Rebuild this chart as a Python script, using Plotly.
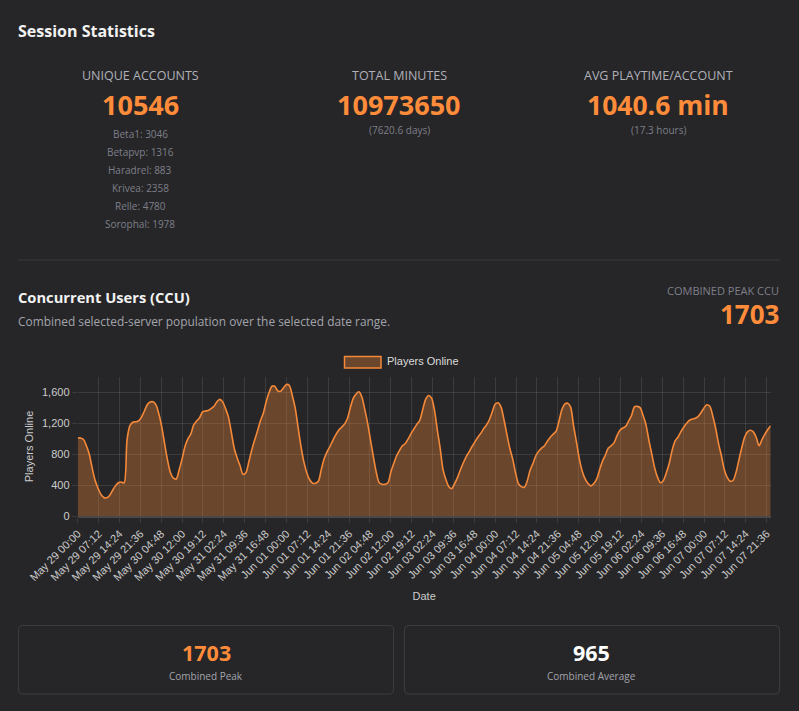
import pandas as pd
import plotly.graph_objects as go

# --- data ---
start_time = "2025-05-29 00:00"
players_online = [
    1010, 1010, 990, 910, 800, 620, 463, 360, 280, 240,
    235, 265, 330, 390, 430, 440, 430, 980, 1170, 1215,
    1220, 1230, 1280, 1360, 1440, 1475, 1478, 1440, 1320, 1150,
    930, 720, 560, 490, 480, 600, 740, 900, 1000, 1060,
    1180, 1230, 1270, 1345, 1360, 1365, 1390, 1420, 1480, 1510,
    1478, 1390, 1280, 1080, 874, 750, 650, 540, 560, 700,
    850, 980, 1100, 1230, 1330, 1480, 1600, 1680, 1678, 1620,
    1615, 1660, 1703, 1690, 1560, 1400, 1150, 900, 700, 560,
    470, 425, 425, 450, 600, 740, 830, 900, 980, 1050,
    1110, 1150, 1190, 1260, 1400, 1520, 1580, 1608, 1540, 1380,
    1200, 980, 760, 560, 430, 410, 410, 430, 570, 680,
    780, 850, 910, 940, 1000, 1070, 1130, 1190, 1240, 1380,
    1510, 1560, 1530, 1380, 1120, 880, 600, 470, 380, 355,
    420, 500, 600, 690, 770, 830, 900, 960, 1020, 1070,
    1130, 1180, 1250, 1350, 1450, 1466, 1410, 1250, 1060, 880,
    740, 560, 420, 380, 370, 450, 590, 680, 780, 840,
    880, 910, 970, 1020, 1060, 1100, 1230, 1380, 1450, 1460,
    1410, 1170, 960, 740, 580, 480, 420, 390, 420, 480,
    600, 710, 790, 880, 910, 950, 1040, 1110, 1140, 1160,
    1230, 1300, 1414, 1420, 1400, 1300, 1180, 980, 800, 620,
    500, 430, 460, 560, 680, 850, 970, 1020, 1090, 1150,
    1200, 1240, 1255, 1265, 1290, 1340, 1400, 1440, 1420, 1300,
    1140, 940, 780, 600, 500, 450, 460, 560, 720, 880,
    1020, 1090, 1110, 1090, 1020, 910, 990, 1060, 1120, 1170,
]
timestamps = pd.date_range(start_time, periods=len(players_online), freq="h")

servers = ["Beta1", "Betapvp", "Haradrel", "Krivea", "Relle", "Sorophal"]
server_accounts = [3046, 1316, 883, 2358, 4780, 1978]

unique_accounts = 10546
total_minutes = 10973650
total_days = 7620.6
avg_minutes = 1040.6
avg_hours = 17.3
peak_ccu = 1703
avg_ccu = 965

# --- styling ---
W, H = 799, 711
BG = "#262628"
ORANGE = "#ff8c3a"
LINE = "#f5893a"
FILL = "rgba(245,137,58,0.33)"
GRID = "rgba(255,255,255,0.10)"
UI_FONT = "Open Sans"
CHART_FONT = "Liberation Sans"


def px(x):
    return x / W


def py(y):
    return 1 - y / H


def rounded_box(x0, y0, x1, y1, r=4):
    # rounded rectangle path, pixel coords converted to paper fractions
    pts = (
        f"M {px(x0 + r)},{py(y0)} L {px(x1 - r)},{py(y0)} "
        f"Q {px(x1)},{py(y0)} {px(x1)},{py(y0 + r)} L {px(x1)},{py(y1 - r)} "
        f"Q {px(x1)},{py(y1)} {px(x1 - r)},{py(y1)} L {px(x0 + r)},{py(y1)} "
        f"Q {px(x0)},{py(y1)} {px(x0)},{py(y1 - r)} L {px(x0)},{py(y0 + r)} "
        f"Q {px(x0)},{py(y0)} {px(x0 + r)},{py(y0)} Z"
    )
    return dict(type="path", xref="paper", yref="paper", path=pts,
                line=dict(color="#3c3c40", width=1))


fig = go.Figure()
fig.add_trace(go.Scatter(
    x=timestamps, y=players_online, name="Players Online",
    mode="lines", line=dict(color=LINE, width=1.6, shape="spline", smoothing=0.8),
    fill="tozeroy", fillcolor=FILL, showlegend=False,
))

ann = []


def text(x, y, s, size, color, bold=False, xanchor="center", font=UI_FONT):
    ann.append(dict(
        x=px(x), y=py(y), xref="paper", yref="paper", text=f"<b>{s}</b>" if bold else s,
        showarrow=False, xanchor=xanchor, yanchor="middle",
        font=dict(family=font, size=size, color=color),
    ))


# header and stat columns
text(16, 31, "Session Statistics", 16, "#f2f2f2", bold=True, xanchor="left")
text(140, 75, "UNIQUE ACCOUNTS", 12.5, "#b0b1b8")
text(140, 105, str(unique_accounts), 27, ORANGE, bold=True)
for i, (name, n) in enumerate(zip(servers, server_accounts)):
    text(140, 134 + 18 * i, f"{name}: {n}", 10, "#7e7f88")

text(399, 75, "TOTAL MINUTES", 12.5, "#b0b1b8")
text(399, 105, str(total_minutes), 27, ORANGE, bold=True)
text(399, 130, f"({total_days} days)", 10, "#7e7f88")

text(658, 75, "AVG PLAYTIME/ACCOUNT", 12.5, "#b0b1b8")
text(658, 105, f"{avg_minutes} min", 26.5, ORANGE, bold=True)
text(658, 130, f"({avg_hours} hours)", 10, "#7e7f88")

# CCU section
text(16, 297, "Concurrent Users (CCU)", 14.7, "#f2f2f2", bold=True, xanchor="left")
text(16, 321, "Combined selected-server population over the selected date range.",
     11.9, "#a3a4ab", xanchor="left")
text(781, 290, "COMBINED PEAK CCU", 11, "#7e7f88", xanchor="right")
text(781, 314, str(peak_ccu), 26, ORANGE, bold=True, xanchor="right")

# legend
text(385, 361, "Players Online", 11, "#dddddd", xanchor="left", font=CHART_FONT)

# bottom cards
text(206, 652, str(peak_ccu), 21.5, ORANGE, bold=True)
text(206, 676, "Combined Peak", 10, "#a3a4ab")
text(591, 652, str(avg_ccu), 21.5, "#ffffff", bold=True)
text(591, 676, "Combined Average", 10, "#a3a4ab")

shapes = [
    dict(type="line", xref="paper", yref="paper", x0=px(18), x1=px(780), y0=py(260), y1=py(260),
         line=dict(color="#3b3b3f", width=1)),
    dict(type="rect", xref="paper", yref="paper", x0=px(344.5), x1=px(381), y0=py(356.5), y1=py(368),
         fillcolor="rgba(245,137,58,0.33)", line=dict(color=LINE, width=1.5)),
    rounded_box(18.5, 625.5, 393.5, 694),
    rounded_box(404.5, 625.5, 779.5, 694),
]

fig.update_layout(
    width=W, height=H,
    margin=dict(l=0, r=0, t=0, b=0),
    paper_bgcolor=BG, plot_bgcolor=BG,
    annotations=ann, shapes=shapes,
    showlegend=False,
    font=dict(family=CHART_FONT, size=11, color="#cccccc"),
)
fig.update_xaxes(
    automargin=False,
    domain=[px(77.7), px(770.7)],
    type="date",
    range=[timestamps[0], timestamps[-1]],
    tick0=start_time, dtick=7.2 * 3600 * 1000,
    tickformat="%b %d %H:%M", tickangle=-45,
    ticks="outside", ticklen=5, tickcolor=GRID,
    showgrid=True, gridcolor=GRID, gridwidth=1,
    showline=True, linecolor="#48484c", linewidth=2,
    zeroline=False,
    tickfont=dict(size=11, color="#cccccc"),
    title=dict(text="Date", font=dict(size=11, color="#cccccc"), standoff=10),
)
fig.update_yaxes(
    automargin=False,
    domain=[py(516), py(377)],
    range=[0, 1800], tick0=0, dtick=400,
    tickformat=",d",
    ticks="outside", ticklen=5, tickcolor=GRID,
    showgrid=True, gridcolor=GRID, gridwidth=1,
    showline=False, zeroline=False,
    tickfont=dict(size=11, color="#cccccc"),
    title=dict(text="Players Online", font=dict(size=11, color="#cccccc"), standoff=6),
)

fig.write_html(
    "out.html",
    config={"displayModeBar": False},
    post_script="document.body.style.margin='0';document.body.style.background='#262628';",
)
